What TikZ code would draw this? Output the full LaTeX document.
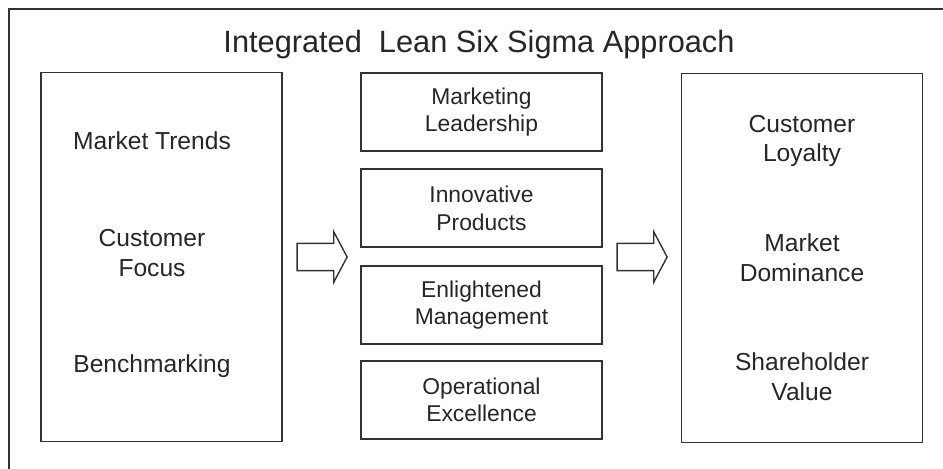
\documentclass[tikz,border=0pt]{standalone}
\usepackage{fontspec}
\setmainfont{Liberation Sans}
\usetikzlibrary{positioning, shapes.arrows}

\begin{document}
\begin{tikzpicture}[
  x=0.02cm, y=-0.02cm,
  panel/.style={draw=black!80, line width=1pt, minimum width=4.82cm, minimum height=7.38cm},
  factor/.style={draw=black!80, line width=1pt, minimum width=4.82cm, minimum height=1.56cm, align=center, text=black!85, font=\fontsize{13}{15.5}\selectfont},
  item/.style={align=center, text=black!85, font=\fontsize{14}{17}\selectfont},
  push/.style={single arrow, draw=black!80, line width=0.8pt, minimum height=1cm, inner xsep=0pt, inner ysep=0.26cm, single arrow head extend=0.23cm, single arrow tip angle=124}
]
  \useasboundingbox (0,0) rectangle (943,469);
  \draw[black!80, line width=1pt] (9,9) rectangle (970,500);
  \node[text=black!85, font=\fontsize{17.5}{20}\selectfont] (title) at (479,45) {Integrated\ \ Lean Six Sigma Approach};

  % inputs
  \node[panel] (drivers) at (161.5,257) {};
  \node[item] (trends) at (152,141) {Market Trends};
  \node[item] (focus) at (152,253) {Customer\\Focus};
  \node[item] (bench) at (152,366) {Benchmarking};

  % the four factors
  \node[factor] (leadership) at (481.5,112) {Marketing\\Leadership};
  \node[factor, below=0.33cm of leadership] (products) {Innovative\\Products};
  \node[factor, below=0.34cm of products] (management) {Enlightened\\Management};
  \node[factor, below=0.31cm of management] (excellence) {Operational\\Excellence};

  % outcomes
  \node[panel] (results) at (802,258) {};
  \node[item] (loyalty) at (802,141) {Customer\\Loyalty};
  \node[item] (dominance) at (802,258) {Market\\Dominance};
  \node[item] (value) at (802,377) {Shareholder\\Value};

  \node[push] (toFactors) at (318.5,257) {};
  \node[push] (toResults) at (638.5,257) {};
\end{tikzpicture}
\end{document}
